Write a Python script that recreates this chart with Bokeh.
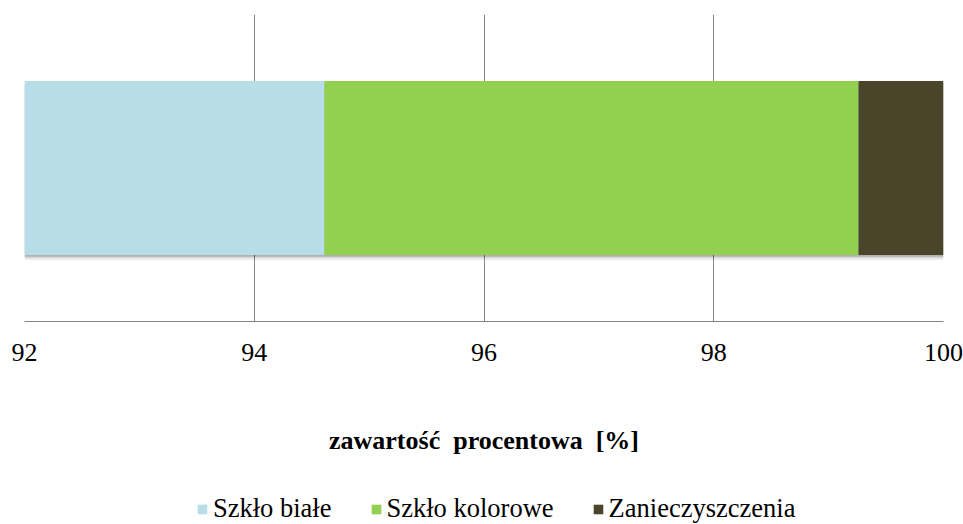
from bokeh.plotting import figure
from bokeh.layouts import column
from bokeh.models import ColumnDataSource, FactorRange, Range1d, FixedTicker, Legend, LegendItem
from bokeh.transform import dodge
from bokeh.embed import file_html
from bokeh.resources import INLINE

# ---- data ----
categories = ["skład"]
series = ["Szkło białe", "Szkło kolorowe", "Zanieczyszczenia"]
szklo_biale = [94.61]
szklo_kolorowe = [4.65]
zanieczyszczenia = [0.74]
x_ticks = [92, 94, 96, 98, 100]
x_tick_labels = ["92", "94", "96", "98", "100"]
axis_title = "zawartość\u00a0 procentowa\u00a0 [%]"

# ---- styles ----
colors = ["#B7DDE8", "#92D050", "#4A452A"]
grid_color = "#878787"
font = "Liberation Serif"

source = ColumnDataSource(dict(
    cat=categories,
    biale=szklo_biale,
    kolorowe=szklo_kolorowe,
    zan=zanieczyszczenia,
    total=[a + b + c for a, b, c in zip(szklo_biale, szklo_kolorowe, zanieczyszczenia)],
    zero=[0] * len(categories),
))

p = figure(width=963, height=462, output_backend="svg", toolbar_location=None,
           y_range=FactorRange(factors=categories, range_padding=0),
           x_range=Range1d(x_ticks[0], x_ticks[-1]),
           min_border_left=24, min_border_right=20, min_border_top=14,
           min_border_bottom=141)
p.outline_line_color = None
p.background_fill_color = "white"

# soft shadow under the bar
for off, alpha in [(-0.006, 0.18), (-0.012, 0.10), (-0.018, 0.05)]:
    p.hbar(y=dodge("cat", off, range=p.y_range), left="zero", right="total",
           height=0.566, source=source, fill_color="black", fill_alpha=alpha,
           line_color=None)

rs = p.hbar_stack(["biale", "kolorowe", "zan"], y="cat", height=0.566,
                  color=colors, line_color=None, source=source)

p.yaxis.visible = False
p.ygrid.visible = False

p.xaxis.ticker = FixedTicker(ticks=x_ticks)
p.xaxis.major_label_overrides = {t: l for t, l in zip(x_ticks, x_tick_labels)}
p.xaxis.major_tick_line_color = None
p.xaxis.minor_tick_line_color = None
p.xaxis.axis_line_color = grid_color
p.xaxis.major_label_text_font = font
p.xaxis.major_label_text_font_size = "26px"
p.xaxis.major_label_text_color = "#000000"
p.xaxis.major_label_standoff = 16
p.xaxis.axis_label = axis_title
p.xaxis.axis_label_text_font = font
p.xaxis.axis_label_text_font_style = "bold"
p.xaxis.axis_label_text_font_size = "26px"
p.xaxis.axis_label_text_color = "#000000"
p.xaxis.axis_label_standoff = 62

p.xgrid.ticker = FixedTicker(ticks=x_ticks)
p.xgrid.grid_line_color = grid_color
p.xgrid.grid_line_width = 1

# ---- legend strip (swatch renderers sit outside the strip's visible range) ----
q = figure(width=963, height=62, output_backend="svg", toolbar_location=None,
           x_range=Range1d(0, 1), y_range=Range1d(0, 1),
           x_axis_type=None, y_axis_type=None,
           min_border_left=0, min_border_right=0, min_border_top=0,
           min_border_bottom=0)
q.outline_line_color = None
q.grid.visible = False
qs = [q.hbar(y="zero", left="total", right="total", height=0.01, source=source,
             fill_color=c, line_color=None) for c in colors]

legend = Legend(items=[LegendItem(label=s, renderers=[r]) for s, r in zip(series, qs)],
                orientation="horizontal", location=(172, 0),
                label_text_font=font, label_text_font_size="26.5px",
                label_text_color="#000000",
                glyph_width=12, glyph_height=12, label_standoff=5, spacing=38,
                border_line_color=None, background_fill_alpha=0,
                padding=0, margin=0)
q.add_layout(legend)

open("out.html", "w").write(file_html(column(p, q, spacing=0), INLINE))
